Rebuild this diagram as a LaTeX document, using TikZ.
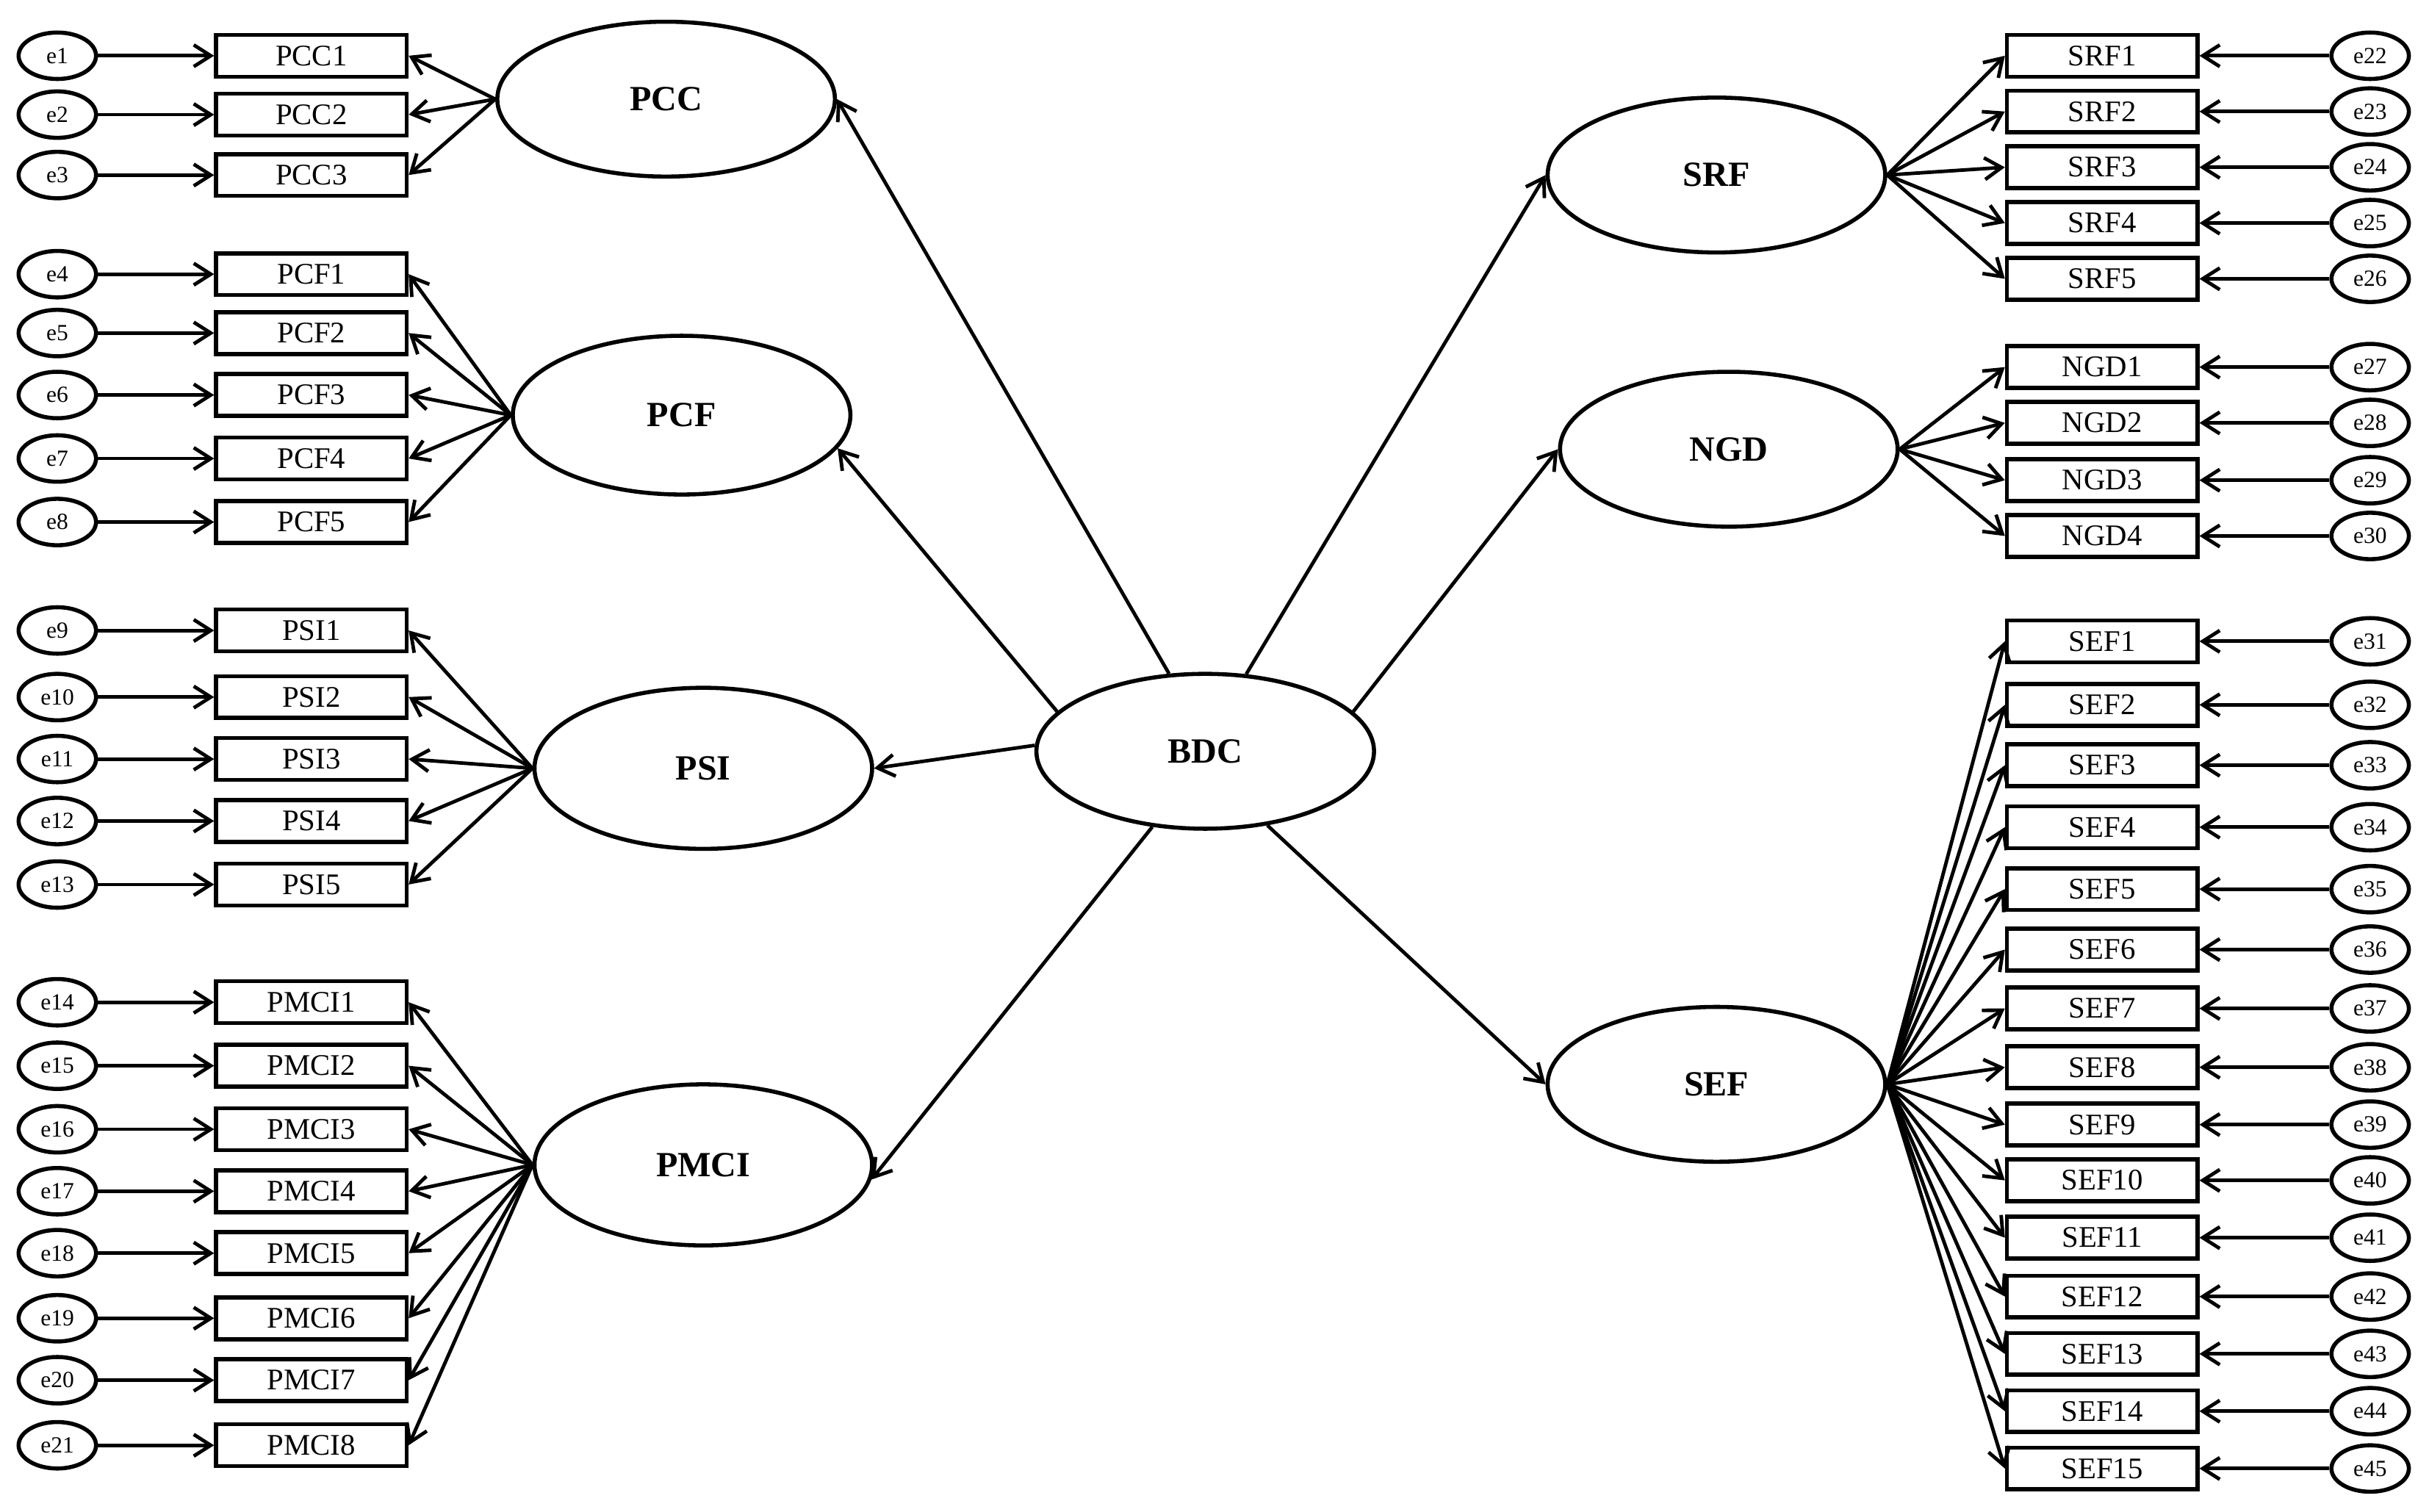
\documentclass[tikz,border=0pt]{standalone}
\usepackage{fontspec}
\setmainfont{Liberation Serif}
\usetikzlibrary{shapes.geometric,arrows.meta}
\begin{document}
\begin{tikzpicture}[x=0.02cm,y=-0.02cm,
 obs/.style={draw,line width=1.5pt,minimum width=2.46cm,minimum height=0.54cm,inner sep=0pt,font=\fontsize{11}{11}\selectfont},
 err/.style={draw,ellipse,line width=1.5pt,minimum width=1.0cm,minimum height=0.6cm,inner sep=0pt,font=\fontsize{8.5}{8.5}\selectfont},
 lat/.style={draw,ellipse,line width=1.5pt,minimum width=4.36cm,minimum height=2.0cm,font=\bfseries\fontsize{13}{13}\selectfont},
 arr/.style={line width=1.3pt,-{Straight Barb[length=2.2mm,width=2.8mm]}}]
\useasboundingbox (0,0) rectangle (1568,976);
\fill[white] (0,0) rectangle (1568,976);
% latents
\node[lat] (PCC) at (430,64) {PCC};
\node[lat,minimum height=2.05cm] (PCF) at (440,268) {PCF};
\node[lat,minimum height=2.08cm] (PSI) at (454,496) {PSI};
\node[lat,minimum height=2.08cm] (PMCI) at (454,752) {PMCI};
\node[lat] (BDC) at (778,485) {BDC};
\node[lat] (SRF) at (1108,113) {SRF};
\node[lat] (NGD) at (1116,290) {NGD};
\node[lat] (SEF) at (1108,700) {SEF};
\draw[arr] (BDC.115) -- (PCC.east);
\draw[arr] (BDC.165) -- (PCF.-12);
\draw[arr] (BDC.178) -- (PSI.east);
\draw[arr] (BDC.235) -- (PMCI.-5);
\draw[arr] (BDC.62) -- (SRF.west);
\draw[arr] (BDC.15) -- (NGD.west);
\draw[arr] (BDC.-50) -- (SEF.west);
% left indicators
\newcounter{ec}
\foreach \lab/\n/\y in {PCC/PCC1/36,PCC/PCC2/74,PCC/PCC3/113,
 PCF/PCF1/177,PCF/PCF2/215,PCF/PCF3/255,PCF/PCF4/296,PCF/PCF5/337,
 PSI/PSI1/407,PSI/PSI2/450,PSI/PSI3/490,PSI/PSI4/530,PSI/PSI5/571,
 PMCI/PMCI1/647,PMCI/PMCI2/688,PMCI/PMCI3/729,PMCI/PMCI4/769,PMCI/PMCI5/809,PMCI/PMCI6/851,PMCI/PMCI7/891,PMCI/PMCI8/933}{
 \stepcounter{ec}
 \node[obs] (\n) at (201,\y) {\n};
 \node[err] (e\arabic{ec}) at (37,\y) {e\arabic{ec}};
 \draw[arr] (e\arabic{ec}) -- (\n);
 \draw[arr] (\lab.west) -- (\n.east);
}
% right indicators
\foreach \lab/\n/\y in {SRF/SRF1/36,SRF/SRF2/72,SRF/SRF3/108,SRF/SRF4/144,SRF/SRF5/180,
 NGD/NGD1/237,NGD/NGD2/273,NGD/NGD3/310,NGD/NGD4/346,
 SEF/SEF1/414,SEF/SEF2/455,SEF/SEF3/494,SEF/SEF4/534,SEF/SEF5/574,SEF/SEF6/613,SEF/SEF7/651,SEF/SEF8/689,SEF/SEF9/726,SEF/SEF10/762,SEF/SEF11/799,SEF/SEF12/837,SEF/SEF13/874,SEF/SEF14/911,SEF/SEF15/948}{
 \stepcounter{ec}
 \node[obs] (\n) at (1357,\y) {\n};
 \node[err] (e\arabic{ec}) at (1530,\y) {e\arabic{ec}};
 \draw[arr] (e\arabic{ec}) -- (\n);
 \draw[arr] (\lab.east) -- (\n.west);
}
\end{tikzpicture}
\end{document}
